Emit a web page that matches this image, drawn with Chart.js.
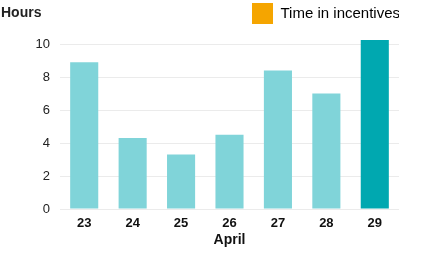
<!DOCTYPE html>
<html>
<head>
<meta charset="utf-8">
<script src="https://cdn.jsdelivr.net/npm/chart.js@4/dist/chart.umd.min.js"></script>
<style>
  html, body { margin: 0; padding: 0; background: #fff; }
  #wrap { width: 422px; height: 256px; position: relative; }
</style>
</head>
<body>
<div id="wrap"><canvas id="c" width="422" height="256"></canvas></div>
<script>
const categories = ['23', '24', '25', '26', '27', '28', '29'];
const hours = [8.9, 4.3, 3.3, 4.5, 8.4, 7.0, 10.25];
const yTicks = [0, 2, 4, 6, 8, 10];
const seriesName = 'Time in incentives';
const yTitle = 'Hours';
const xTitle = 'April';

const FONT = "'Liberation Sans', Arial, Helvetica, sans-serif";
const light = '#80d4d9';
const dark = '#00a8b0';
const orange = '#f5a500';

const barColors = hours.map((v, i) => i === hours.length - 1 ? dark : light);

const legendFix = {
  id: 'legendFix',
  afterInit(chart) {
    const lg = chart.legend;
    if (!lg) return;
    const orig = lg.fit;
    lg.fit = function () {
      orig.call(this);
      this.height += 6;
      if (this.lineWidths && this.lineWidths.length) this.lineWidths[0] -= 4;
    };
  }
};

const hoursLabel = {
  id: 'hoursLabel',
  afterDraw(chart) {
    const ctx = chart.ctx;
    ctx.save();
    ctx.font = 'bold 14px ' + FONT;
    ctx.fillStyle = '#222';
    ctx.textAlign = 'left';
    ctx.textBaseline = 'middle';
    ctx.fillText(yTitle, 1, 13);
    ctx.restore();
  }
};

new Chart(document.getElementById('c'), {
  type: 'bar',
  data: {
    labels: categories,
    datasets: [{
      label: seriesName,
      data: hours,
      backgroundColor: barColors,
      borderWidth: 0,
      categoryPercentage: 1,
      barPercentage: 0.58
    }]
  },
  options: {
    responsive: false,
    animation: false,
    devicePixelRatio: 1,
    layout: { padding: { top: 0, right: 23, bottom: 0, left: 0 } },
    plugins: {
      tooltip: { enabled: false },
      legend: {
        display: true,
        position: 'top',
        align: 'end',
        labels: {
          boxWidth: 21,
          boxHeight: 21,
          padding: 3,
          color: '#222',
          font: { family: FONT, size: 15 },
          generateLabels: () => [{
            text: seriesName,
            fillStyle: orange,
            strokeStyle: orange,
            lineWidth: 0,
            hidden: false,
            datasetIndex: 0
          }]
        }
      }
    },
    scales: {
      x: {
        grid: { display: false, drawTicks: false },
        border: { display: false },
        ticks: {
          color: '#111',
          font: { family: FONT, size: 13, weight: 'bold' },
          padding: 7,
          maxRotation: 0
        },
        title: {
          display: true,
          text: xTitle,
          color: '#111',
          font: { family: FONT, size: 14, weight: 'bold' },
          padding: { top: 0, bottom: 7 }
        },
        afterFit(scale) { scale.height = 47; }
      },
      y: {
        min: 0,
        max: 10.25,
        grid: { color: '#ebebeb', lineWidth: 1, drawTicks: false },
        border: { display: false },
        ticks: {
          color: '#222',
          font: { family: FONT, size: 13 },
          padding: 10
        },
        afterBuildTicks(scale) { scale.ticks = yTicks.map(v => ({ value: v })); },
        afterFit(scale) { scale.width = 60; }
      }
    }
  },
  plugins: [legendFix, hoursLabel]
});
</script>
</body>
</html>
